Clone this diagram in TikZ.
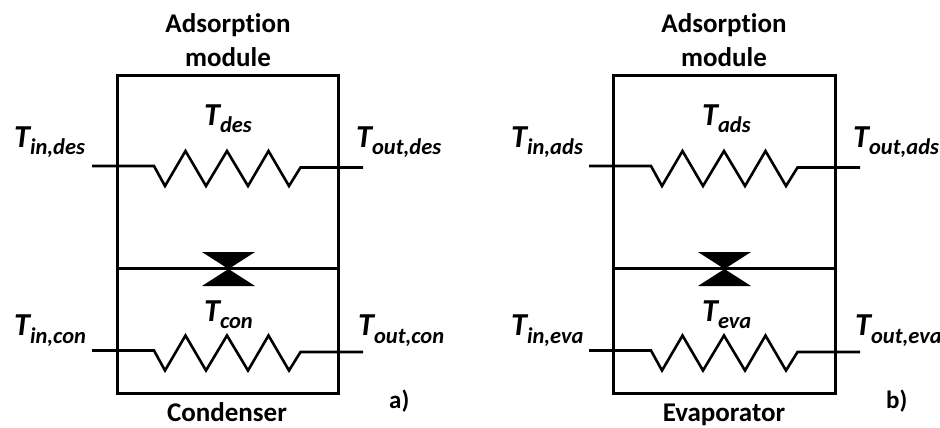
\documentclass[tikz,border=0pt]{standalone}
\usepackage{fontspec}
\setmainfont[Ligatures=NoCommon]{Carlito}
\newcommand{\TT}[1]{{\fontsize{32}{32}\selectfont\bfseries\itshape T\raisebox{-7.5pt}{\fontsize{22.5}{22.5}\selectfont #1}}}
\newcommand{\coilpath}[2]{%
  \draw[coil] (#1) -- ++(62,0) -- ++(11,20) -- ++(20.5,-35) -- ++(20.5,35) -- ++(21,-35) -- ++(21,35) -- ++(20.5,-35) -- ++(20.5,35) -- ++(11.5,-18.5) -- (#2);}
\tikzset{
  box/.style={draw,line width=3pt,minimum width=221pt,minimum height=317pt,inner sep=0pt},
  coil/.style={line width=2.6pt,line join=miter},
  divider/.style={line width=3pt},
  bowtie/.style={fill=black,draw=none},
  tlabel/.style={anchor=base west,inner sep=0pt,text=black},
  title/.style={anchor=base,inner sep=0pt,font=\fontsize{27}{27}\selectfont\bfseries},
  tag/.style={anchor=base west,inner sep=0pt,font=\fontsize{25}{25}\selectfont\bfseries},
}
\begin{document}
\begin{tikzpicture}[x=1pt,y=-1pt]
\useasboundingbox (0,0) rectangle (940,428);
% panel a
\node[box] (boxa) at (227.8,234.5) {};
\node[title] (titlea1) at (228,33) {Adsorption};
\node[title] (titlea2) at (228,66.7) {module};
\node[title] (bota) at (227,421.5) {Condenser};
\node[tag] (taga) at (389,408) {a)};
\coordinate (ainU) at (92,166);
\coordinate (aoutU) at (363,167.5);
\coordinate (ainL) at (92,350.5);
\coordinate (aoutL) at (363,352);
\coilpath{ainU}{aoutU}
\coilpath{ainL}{aoutL}
\draw[divider] (boxa.west |- 0,268.5) coordinate (adivl) -- (boxa.east |- 0,268.5) coordinate (adivr);
\fill[bowtie] (202,252) -- (255,252) -- (202,286) -- (255,286) -- cycle;
\node[tlabel] (a1) at (14,147) {\TT{in,des}};
\node[tlabel] (a2) at (204,125) {\TT{des}};
\node[tlabel] (a3) at (356,147) {\TT{out,des}};
\node[tlabel] (a4) at (204,321) {\TT{con}};
\node[tlabel] (a5) at (14,335.5) {\TT{in,con}};
\node[tlabel] (a6) at (358,335.5) {\TT{out,con}};
% panel b
\node[box,minimum width=222pt] (boxb) at (724.5,234.5) {};
\node[title] (titleb1) at (724,33) {Adsorption};
\node[title] (titleb2) at (724,66.7) {module};
\node[title] (botb) at (724,421.5) {Evaporator};
\node[tag] (tagb) at (886,408) {b)};
\coordinate (binU) at (589,166);
\coordinate (boutU) at (860,167.5);
\coordinate (binL) at (589,350.5);
\coordinate (boutL) at (860,352);
\coilpath{binU}{boutU}
\coilpath{binL}{boutL}
\draw[divider] (boxb.west |- 0,268.5) coordinate (bdivl) -- (boxb.east |- 0,268.5) coordinate (bdivr);
\fill[bowtie] (698,252) -- (751,252) -- (698,286) -- (751,286) -- cycle;
\node[tlabel] (b1) at (511,147) {\TT{in,ads}};
\node[tlabel] (b2) at (702,125) {\TT{ads}};
\node[tlabel] (b3) at (853,147) {\TT{out,ads}};
\node[tlabel] (b4) at (702,321) {\TT{eva}};
\node[tlabel] (b5) at (511,335.5) {\TT{in,eva}};
\node[tlabel] (b6) at (855,335.5) {\TT{out,eva}};
\end{tikzpicture}
\end{document}
